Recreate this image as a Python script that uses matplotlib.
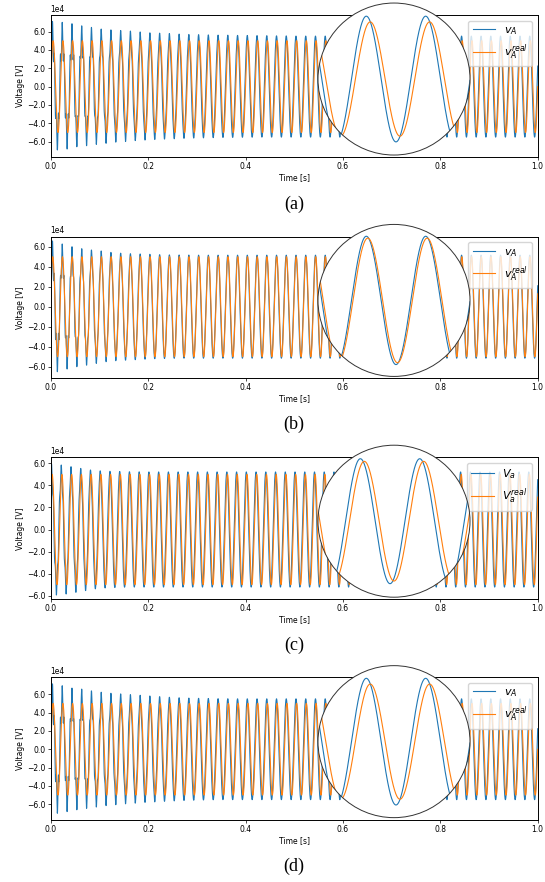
import numpy as np
import matplotlib
matplotlib.use('Agg')
from matplotlib import pyplot as plt
from matplotlib.patches import Circle
from matplotlib.ticker import MultipleLocator, FuncFormatter

# grid frequency and time base
f0 = 50.0
t_end = 1.0
n_samples = 20001

# reference (orange) amplitude, 1e4 V
amp_real = 5.0

# per-cycle positive peaks / negative troughs of v_A (1e4 V)
peaks_a = [7.1, 7.0, 6.85, 6.62, 6.45, 6.27, 6.18, 6.11, 6.05, 5.95, 5.86, 5.82, 5.78,
           5.72, 5.68, 5.66, 5.63, 5.61, 5.6, 5.58, 5.57, 5.56, 5.55, 5.53, 5.52]
troughs_a = [6.9, 6.8, 6.55, 6.44, 6.29, 6.18, 6.05, 5.98, 5.88, 5.82, 5.76, 5.72, 5.68,
             5.64, 5.6, 5.58, 5.56, 5.54, 5.53, 5.52, 5.51]
peaks_b = [6.57, 6.27, 6.0, 5.8, 5.67, 5.57, 5.43, 5.35, 5.3, 5.27, 5.24, 5.2, 5.18, 5.17, 5.16]
troughs_b = [6.5, 6.23, 6.0, 5.85, 5.67, 5.5, 5.4, 5.35, 5.3, 5.25, 5.2, 5.18, 5.16]
peaks_c = [5.94, 5.85, 5.7, 5.54, 5.4, 5.32, 5.28, 5.26, 5.24, 5.23]
troughs_c = [5.94, 5.85, 5.7, 5.54, 5.38, 5.3, 5.26, 5.23]
peaks_d = [7.13, 6.93, 6.67, 6.56, 6.37, 6.22, 6.11, 6.04, 5.96, 5.89, 5.81, 5.74, 5.67,
           5.62, 5.58, 5.56, 5.54, 5.52, 5.51]
troughs_d = [6.98, 6.8, 6.6, 6.45, 6.3, 6.15, 6.05, 5.95, 5.88, 5.8, 5.74, 5.68, 5.63,
             5.59, 5.56, 5.53, 5.51]

steady = [5.5, 5.15, 5.22, 5.5]           # steady-state v_A amplitude
phase_real = [0.0, 15.0, 36.0, 0.0]       # deg
phase_va = [24.0, 24.0, 60.0, 24.0]       # deg
ylims = [(-7.7, 7.8), (-7.16, 7.0), (-6.33, 6.55), (-7.75, 7.85)]
zoom_y = [6.65, 6.1, 6.35, 6.6]           # half height of the magnified view
zoom_t = 0.693                            # centre of the magnified view [s]
zoom_halfwidth = 0.0256

labels = [(r'$v_A$', r'$v_A^{real}$'), (r'$v_A$', r'$v_A^{real}$'),
          (r'$V_a$', r'$V_a^{real}$'), (r'$v_A$', r'$v_A^{real}$')]
captions = ['(a)', '(b)', '(c)', '(d)']

peaks = [peaks_a, peaks_b, peaks_c, peaks_d]
troughs = [troughs_a, troughs_b, troughs_c, troughs_d]

blue = '#1f77b4'
orange = '#ff7f0e'


def per_cycle(vals, n, fill):
    out = np.full(n, fill)
    out[:len(vals)] = vals
    return out


def build(i, t):
    w = 2 * np.pi * f0
    v_real = amp_real * np.sin(w * t + np.deg2rad(phase_real[i]))
    x = w * t + np.deg2rad(phase_va[i])
    half = np.floor(x / np.pi).astype(int)
    ncyc = half.max() // 2 + 2
    pk = per_cycle(peaks[i], ncyc, steady[i])
    tr = per_cycle(troughs[i], ncyc, steady[i])
    extra = np.where(half % 2 == 0, pk[half // 2], tr[half // 2]) - steady[i]
    v_a = steady[i] * np.sin(x) + extra * np.sin(5 * x)
    return v_a * 1e4, v_real * 1e4


W, H = 545.0, 882.0
fig = plt.figure(figsize=(W / 100, H / 100), dpi=100)

ax_left, ax_right = 50.7, 537.7
tops = [15.0, 236.7, 457.3, 677.3]
bottoms = [157.3, 378.3, 599.3, 820.3]
cap_y = [204, 424, 645, 866]
radius = 76.0
circ_x = 394.0

t = np.linspace(0, t_end, n_samples)
fmt = FuncFormatter(lambda v, p: ('%.1f' % (v / 1e4)).replace('-', '\u2212'))

for i in range(4):
    ax = fig.add_axes([ax_left / W, 1 - bottoms[i] / H,
                       (ax_right - ax_left) / W, (bottoms[i] - tops[i]) / H])
    va, vr = build(i, t)
    ax.plot(t, va, color=blue, lw=0.8, label=labels[i][0])
    ax.plot(t, vr, color=orange, lw=0.8, label=labels[i][1])
    ax.set_xlim(0, t_end)
    ax.set_ylim(ylims[i][0] * 1e4, ylims[i][1] * 1e4)
    ax.xaxis.set_major_locator(MultipleLocator(0.2))
    ax.yaxis.set_major_locator(MultipleLocator(2e4))
    ax.yaxis.set_major_formatter(fmt)
    ax.tick_params(labelsize=5.5, length=2, width=0.5, pad=1.5)
    for s in ax.spines.values():
        s.set_linewidth(0.7)
    ax.text(0, 1.01, '1e4', transform=ax.transAxes, fontsize=5.5, va='bottom', ha='left')
    ax.set_xlabel('Time [s]', fontsize=5.5, labelpad=1.5)
    ax.set_ylabel('Voltage [V]', fontsize=5.5, labelpad=1.5)
    ax.legend(loc='upper right', fontsize=8)

    # magnified circular view
    cy = bottoms[i] - 0.55 * (bottoms[i] - tops[i])
    ins = fig.add_axes([(circ_x - radius) / W, 1 - (cy + radius) / H,
                        2 * radius / W, 2 * radius / H])
    ins.set_xlim(zoom_t - zoom_halfwidth, zoom_t + zoom_halfwidth)
    ins.set_ylim(-zoom_y[i] * 1e4, zoom_y[i] * 1e4)
    ins.axis('off')
    bg = Circle((0.5, 0.5), 0.5, transform=ins.transAxes, fc='white', ec='none', zorder=0)
    ins.add_patch(bg)
    for y, c in ((va, blue), (vr, orange)):
        ln, = ins.plot(t, y, color=c, lw=0.8, zorder=2)
        ln.set_clip_path(bg)
    rim = Circle((0.5, 0.5), 0.5, transform=ins.transAxes, fc='none', ec='0.2',
                 lw=0.7, zorder=3, clip_on=False)
    ins.add_patch(rim)

    fig.text((ax_left + ax_right) / 2 / W, 1 - cap_y[i] / H, captions[i],
             ha='center', va='center', fontsize=13, family=['Liberation Serif'])

fig.savefig('out.png', dpi=100)
